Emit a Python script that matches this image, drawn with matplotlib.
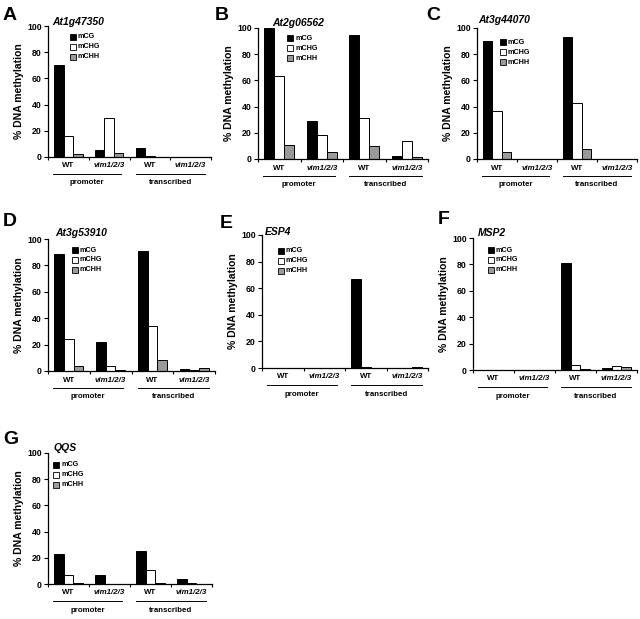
import matplotlib
matplotlib.use("Agg")
import matplotlib.pyplot as plt
from matplotlib.patches import Rectangle
from matplotlib.lines import Line2D

plt.rcParams['font.family'] = ['Liberation Sans', 'DejaVu Sans']

W, H = 640, 619

genes = ["At1g47350", "At2g06562", "At3g44070", "At3g53910", "ESP4", "MSP2", "QQS"]
letters = ["A", "B", "C", "D", "E", "F", "G"]
groups = ["WT", "vim1/2/3", "WT", "vim1/2/3"]
regions = ["promoter", "transcribed"]
series = ["mCG", "mCHG", "mCHH"]
colors = ["#000000", "#ffffff", "#9a9a9a"]
yticks = [0, 20, 40, 60, 80, 100]

# values per gene: [mCG, mCHG, mCHH] for each of the 4 groups
mCG = {
    "At1g47350": [70, 5, 7, 0],
    "At2g06562": [100, 29, 95, 2],
    "At3g44070": [90, 0, 93, 0.3],
    "At3g53910": [89, 22, 91, 1.5],
    "ESP4": [0, 0, 67, 0],
    "MSP2": [0, 0, 81, 1.5],
    "QQS": [23, 7, 25, 4],
}
mCHG = {
    "At1g47350": [16, 30, 0.6, 0],
    "At2g06562": [63, 18, 31, 14],
    "At3g44070": [37, 0, 43, 0.2],
    "At3g53910": [24, 3.5, 34, 1],
    "ESP4": [0, 0, 0.5, 0],
    "MSP2": [0, 0, 4, 3],
    "QQS": [7, 0, 11, 1],
}
mCHH = {
    "At1g47350": [2, 3, 0, 0],
    "At2g06562": [11, 5, 10, 1.5],
    "At3g44070": [5, 0, 7.5, 0.2],
    "At3g53910": [4, 1, 8, 2],
    "ESP4": [0, 0, 0, 1],
    "MSP2": [0, 0, 0.5, 2],
    "QQS": [1, 0, 1, 0.3],
}

# layout in pixels: x0, x1, ytop, ybottom
rects = [
    (48, 211, 26, 157),
    (258, 428, 28, 159),
    (477, 637, 28, 159),
    (48, 215, 239, 371),
    (262, 428, 235, 368),
    (473, 637, 238, 370),
    (48, 212, 453, 584),
]
letter_pos = [(3, 15), (215, 15), (426, 16), (3, 221), (220, 223), (438, 219), (3, 439)]
title_off = [(4, 4), (14, 5), (1, 8), (7, 6), (3, 3), (5, 5), (6, 5)]
legend_off = [(25, 11), (32, 10), (26, 14), (27, 11), (19, 16), (18, 12), (8, 12)]


def fx(x):
    return x / W


def fy(y):
    return 1 - y / H


fig = plt.figure(figsize=(W / 100, H / 100), dpi=100)
fig.patch.set_facecolor("white")

bw = 0.233
for k, gene in enumerate(genes):
    x0, x1, yt, yb = rects[k]
    ax = fig.add_axes([fx(x0), fy(yb), fx(x1 - x0), (yb - yt) / H])
    vals = [mCG[gene], mCHG[gene], mCHH[gene]]
    for s in range(3):
        xs = [g + 0.5 + (s - 1) * bw for g in range(4)]
        ax.bar(xs, vals[s], width=bw, color=colors[s], edgecolor="black", linewidth=0.7, zorder=2)
    ax.set_xlim(0, 4)
    ax.set_ylim(0, 100)
    ax.set_yticks(yticks)
    ax.set_yticklabels([str(t) for t in yticks], fontsize=6.3, fontweight="bold")
    ax.set_xticks([0, 1, 2, 3, 4])
    ax.set_xticklabels([])
    ax.tick_params(axis="y", direction="out", length=3, width=0.8, pad=1.5)
    ax.tick_params(axis="x", direction="out", length=2.5, width=0.8)
    for sp in ["top", "right"]:
        ax.spines[sp].set_visible(False)
    for sp in ["left", "bottom"]:
        ax.spines[sp].set_linewidth(0.9)
    ax.set_ylabel("% DNA methylation", fontsize=7.5, fontweight="bold", labelpad=2)
    ax.patch.set_alpha(0)

    # panel letter
    lx, ly = letter_pos[k]
    fig.text(fx(lx), fy(ly), letters[k], fontsize=14, fontweight="bold", ha="left", va="center")
    # gene title
    tx, ty = title_off[k]
    fig.text(fx(x0 + tx), fy(yt - ty), gene, fontsize=7.5, fontweight="bold", style="italic",
             ha="left", va="center")
    # legend
    gx, gy = legend_off[k]
    for s in range(3):
        cy = yt + gy + s * 10
        fig.patches.append(Rectangle((fx(x0 + gx - 3), fy(cy + 3)), 6 / W, 6 / H,
                                     transform=fig.transFigure, facecolor=colors[s],
                                     edgecolor="black", linewidth=0.6))
        fig.text(fx(x0 + gx + 5), fy(cy), series[s], fontsize=5.2, fontweight="bold",
                 ha="left", va="center")
    # group labels
    cw = (x1 - x0) / 4
    for g in range(4):
        cx = x0 + (g + 0.5) * cw
        st = "italic" if g % 2 else "normal"
        fig.text(fx(cx), fy(yb + 9), groups[g], fontsize=5.7, fontweight="bold", style=st,
                 ha="center", va="center")
    for r in range(2):
        a = x0 + (r * 2 + (0.12 if r == 0 else 0.15)) * cw
        b = x0 + (r * 2 + (1.8 if r == 0 else 1.85)) * cw
        fig.add_artist(Line2D([fx(a), fx(b)], [fy(yb + 17), fy(yb + 17)], color="black",
                              linewidth=0.7, transform=fig.transFigure))
        fig.text(fx((a + b) / 2), fy(yb + 26), regions[r], fontsize=5.7, fontweight="bold",
                 ha="center", va="center")

fig.savefig("out.png", dpi=100, facecolor="white")
